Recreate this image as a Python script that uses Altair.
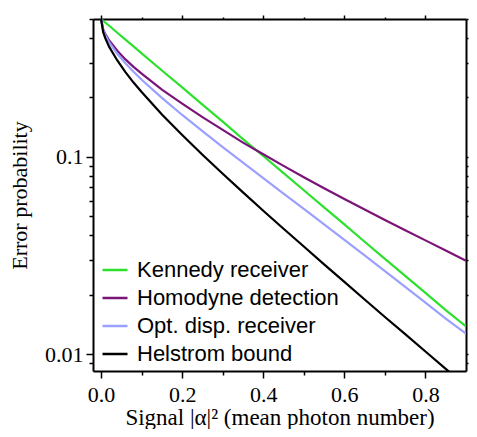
import altair as alt
import pandas as pd

# Mean photon number |alpha|^2 sample positions
signal = [0.0, 0.005, 0.01, 0.02, 0.04, 0.06, 0.08, 0.1, 0.15, 0.2, 0.25, 0.3,
          0.35, 0.4, 0.45, 0.5, 0.55, 0.6, 0.65, 0.7, 0.75, 0.8, 0.85, 0.9]

kennedy = [0.5, 0.490, 0.480, 0.462, 0.426, 0.393, 0.363, 0.335, 0.274, 0.225, 0.184, 0.151,
           0.123, 0.101, 0.0826, 0.0677, 0.0554, 0.0454, 0.0371, 0.0304, 0.0249, 0.0204, 0.0167, 0.0138]
homodyne = [0.5, 0.444, 0.421, 0.389, 0.345, 0.312, 0.286, 0.264, 0.219, 0.186, 0.159, 0.137,
            0.118, 0.103, 0.0900, 0.0788, 0.0693, 0.0611, 0.0540, 0.0478, 0.0424, 0.0377, 0.0335, 0.0297]
opt_disp = [0.5, 0.440, 0.415, 0.380, 0.333, 0.298, 0.270, 0.246, 0.199, 0.163, 0.135, 0.112,
            0.0934, 0.0779, 0.0651, 0.0544, 0.0454, 0.0379, 0.0316, 0.0263, 0.0219, 0.0182, 0.0151, 0.0127]
helstrom = [0.5, 0.430, 0.401, 0.361, 0.308, 0.269, 0.238, 0.213, 0.164, 0.129, 0.1025, 0.0820,
            0.0660, 0.0533, 0.0432, 0.0351, 0.0285, 0.0232, 0.0189, 0.0154, 0.0126, 0.0103, 0.0084, 0.0069]

series_names = ["Kennedy receiver", "Homodyne detection", "Opt. disp. receiver", "Helstrom bound"]
series_colors = ["#2ee02e", "#7b1479", "#9aa0ff", "#000000"]

x_ticks = [0.0, 0.1, 0.2, 0.3, 0.4, 0.5, 0.6, 0.7, 0.8]
y_ticks = [0.009, 0.01, 0.02, 0.03, 0.04, 0.05, 0.06, 0.07, 0.08, 0.09,
           0.1, 0.2, 0.3, 0.4, 0.5]

rows = []
for name, vals in zip(series_names, [kennedy, homodyne, opt_disp, helstrom]):
    for xv, yv in zip(signal, vals):
        rows.append({"x": xv, "p": yv, "series": name})
df = pd.DataFrame(rows)

serif = "Liberation Serif"
sans = "Liberation Sans"

x_scale = alt.Scale(domain=[-0.02, 0.9], nice=False, zero=False)
y_scale = alt.Scale(type="log", domain=[0.0082, 0.5], nice=False)

x_major = {"condition": {"test": "round(datum.value*10) % 2 == 0", "value": 7}, "value": 4}
x_major_top = {"condition": {"test": "round(datum.value*10) % 2 == 0", "value": 4}, "value": 2}
y_major = {"condition": {"test": "datum.value == 0.1 || datum.value == 0.01", "value": 7}, "value": 4}

line_axis = dict(domainColor="black", domainWidth=2, tickColor="black", tickWidth=1.5, grid=False)
text_axis = dict(labelFont=serif, labelColor="black", titleFont=serif,
                 titleColor="black", titleFontWeight="normal")

lines = alt.Chart(df).mark_line(clip=True, strokeWidth=2.2).encode(
    x=alt.X("x:Q", scale=x_scale,
            axis=alt.Axis(orient="bottom", values=x_ticks, tickSize=x_major,
                          labelExpr="round(datum.value*10) % 2 == 0 ? format(datum.value, '.1f') : ''",
                          labelFontSize=22, labelPadding=6, labelOverlap=False, labelFlush=False,
                          title="Signal |α|² (mean photon number)", titleFontSize=23,
                          titlePadding=1, **line_axis, **text_axis)),
    y=alt.Y("p:Q", scale=y_scale,
            axis=alt.Axis(orient="left", values=y_ticks, tickSize=y_major,
                          labelExpr="datum.value == 0.1 ? '0.1' : (datum.value == 0.01 ? '0.01' : '')",
                          labelFontSize=22, labelPadding=3, labelOverlap=False, labelFlush=False,
                          title="Error probability", titleFontSize=22, titlePadding=13,
                          **line_axis, **text_axis)),
    color=alt.Color("series:N",
                    scale=alt.Scale(domain=series_names, range=series_colors),
                    sort=series_names,
                    legend=alt.Legend(orient="none", legendX=8, legendY=237, title=None,
                                      symbolType="stroke", symbolSize=625, symbolStrokeWidth=2.5,
                                      labelFont=sans, labelFontSize=22, labelColor="black",
                                      labelLimit=0, labelOffset=8, rowPadding=3, padding=0)),
    detail="series:N",
)

frame = alt.Chart(df).mark_line(clip=True, strokeOpacity=0).encode(
    x=alt.X("x:Q", scale=x_scale,
            axis=alt.Axis(orient="top", values=x_ticks, tickSize=x_major_top, labels=False,
                          title=None, **line_axis)),
    y=alt.Y("p:Q", scale=y_scale,
            axis=alt.Axis(orient="right", values=y_ticks, tickSize=2, labels=False,
                          title=None, **line_axis)),
    detail="series:N",
)

chart = alt.layer(lines, frame).resolve_axis(x="independent", y="independent").properties(
    width=461, height=421,
    autosize=alt.AutoSizeParams(type="fit", contains="padding"),
    padding={"top": 0, "left": 0, "right": 0, "bottom": 0},
    background="white",
).configure_view(stroke=None)

chart.save("out.html", embed_options={"renderer": "svg", "actions": False})
